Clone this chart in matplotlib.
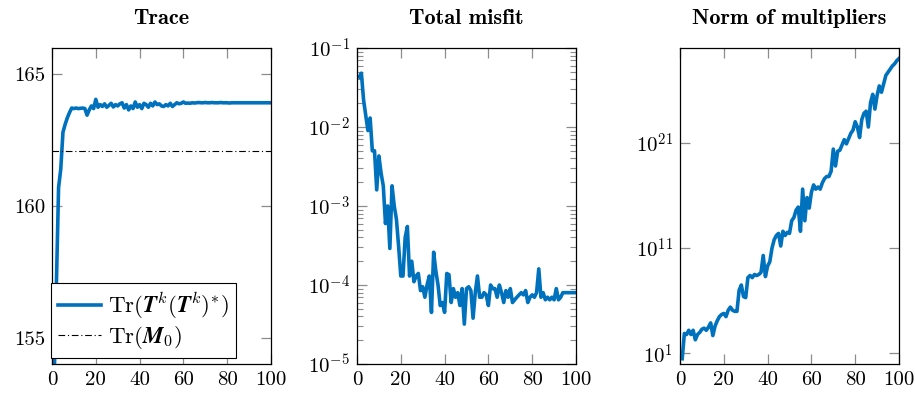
import numpy as np
import matplotlib
matplotlib.use('Agg')
import matplotlib.pyplot as plt
from matplotlib.ticker import FixedLocator, FuncFormatter, LogLocator, NullLocator

plt.rcParams['mathtext.fontset'] = 'cm'
plt.rcParams['font.family'] = 'serif'
plt.rcParams['font.serif'] = ['cmr10', 'DejaVu Serif']
plt.rcParams['axes.formatter.use_mathtext'] = True

# iteration index
iters = list(range(1, 101))

# Trace of T^k (T^k)^*
trace = [153.5, 157.0, 160.7, 161.4, 162.8, 163.1, 163.35, 163.55, 163.72, 163.7,
         163.72, 163.7, 163.71, 163.72, 163.7, 163.45, 163.65, 163.8, 163.7, 164.05,
         163.75, 163.85, 163.78, 163.88, 163.75, 163.82, 163.9, 163.76, 163.85, 163.8,
         163.88, 163.92, 163.72, 163.85, 163.65, 163.8, 163.7, 163.95, 163.75, 163.85,
         163.7, 163.9, 163.85, 163.75, 163.9, 163.8, 163.95, 163.85, 163.88, 163.8,
         163.78, 163.85, 163.8, 163.9, 163.78, 163.85, 163.92, 163.88, 163.9, 163.95,
         163.9, 163.91, 163.9, 163.92, 163.91, 163.92, 163.93, 163.92, 163.92, 163.93,
         163.92, 163.92, 163.93, 163.92, 163.92, 163.92, 163.93, 163.92, 163.92, 163.92,
         163.91, 163.92, 163.92, 163.92, 163.92, 163.92, 163.92, 163.92, 163.92, 163.92,
         163.92, 163.92, 163.92, 163.92, 163.92, 163.92, 163.92, 163.92, 163.92, 163.92]
trace_m0 = 162.1

# total misfit
misfit = [4.3e-2, 4.8e-2, 2.2e-2, 1.4e-2, 9e-3, 1.3e-2, 5e-3, 5e-3, 1.6e-3, 4.3e-3,
          2.6e-3, 1.8e-3, 6e-4, 1e-3, 2.9e-4, 1.8e-3, 1e-3, 6.8e-4, 3.1e-4, 1.3e-4,
          1.3e-4, 4e-4, 5.5e-4, 1.3e-4, 2e-4, 1.1e-4, 1.3e-4, 1.4e-4, 8.5e-5, 9.5e-5,
          7e-5, 1e-4, 1.3e-4, 4.5e-5, 2.6e-4, 1.5e-4, 1e-4, 5.5e-5, 6e-5, 4.5e-5,
          1.4e-4, 1.35e-4, 6e-5, 9e-5, 7e-5, 8e-5, 5.5e-5, 9e-5, 3.2e-5, 9e-5,
          9.5e-5, 8.5e-5, 3.8e-5, 8e-5, 1.3e-4, 7e-5, 7e-5, 8e-5, 7.5e-5, 5.5e-5,
          1e-4, 9e-5, 9e-5, 7e-5, 1e-4, 8e-5, 6e-5, 8.5e-5, 7e-5, 9e-5,
          6e-5, 6.5e-5, 7e-5, 7.5e-5, 8e-5, 7.5e-5, 8.5e-5, 6e-5, 7e-5, 7.5e-5,
          7e-5, 8e-5, 1.6e-4, 7e-5, 8e-5, 6.5e-5, 7e-5, 6.5e-5, 7e-5, 6.5e-5,
          9e-5, 6.5e-5, 7e-5, 8e-5, 8e-5, 8e-5, 8e-5, 8e-5, 8e-5, 8e-5]

# norm of multipliers (log10)
mult_log = [0.5, 2.9, 2.8, 3.2, 2.8, 3.2, 2.3, 2.8, 3.0, 3.3,
            3.4, 3.2, 3.5, 3.9, 2.7, 3.6, 4.1, 4.5, 4.7, 4.8,
            4.5, 5.1, 5.4, 5.1, 5.0, 5.0, 7.0, 7.5, 6.4, 6.3,
            8.2, 8.4, 8.2, 8.5, 8.4, 8.5, 8.7, 10.3, 8.3, 9.3,
            9.7, 11.0, 11.8, 12.2, 12.4, 11.2, 12.6, 12.2, 12.5, 12.4,
            13.6, 13.9, 14.6, 14.9, 12.6, 16.6, 13.6, 15.8, 14.8, 16.3,
            17.0, 16.6, 16.8, 16.6, 17.2, 17.6, 17.8, 17.8, 18.3, 20.4,
            18.8, 20.2, 20.3, 20.8, 21.3, 20.9, 21.4, 21.9, 22.2, 23.0,
            22.5, 21.5, 23.2, 23.8, 24.0, 22.5, 24.8, 25.6, 24.2, 25.5,
            26.4, 25.8, 26.6, 27.4, 27.7, 28.0, 28.3, 28.5, 28.8, 29.0]
mult = [10.0 ** v for v in mult_log]

blue = '#0072bd'
fs = 15

fig = plt.figure(figsize=(9.15, 3.97), dpi=100)
ax1 = fig.add_axes([52 / 915, 33 / 397, 219 / 915, 316 / 397])
ax2 = fig.add_axes([357 / 915, 33 / 397, 219 / 915, 316 / 397])
ax3 = fig.add_axes([680 / 915, 33 / 397, 219 / 915, 316 / 397])


def style(ax):
    ax.tick_params(which='both', direction='in', top=True, right=True,
                   color='#8c8c8c', labelsize=fs, pad=5)
    ax.tick_params(which='major', length=7, width=0.9)
    ax.tick_params(which='minor', length=4.5, width=0.8)
    for s in ax.spines.values():
        s.set_linewidth(0.9)
    ax.set_xlim(0, 100)
    ax.xaxis.set_major_locator(FixedLocator([0, 20, 40, 60, 80, 100]))
    ax.xaxis.set_major_formatter(FuncFormatter(lambda v, p: '%d' % v))


def title(ax, text):
    ax.set_title(text, family='cmb10', fontsize=16, pad=17)


# Trace
ax1.plot(iters, trace, color=blue, lw=2.6, label=r'$\mathrm{Tr}(\mathbfit{T}^{k}(\mathbfit{T}^{k})^{*})\;\;$')
ax1.axhline(trace_m0, color='black', lw=0.8, ls=(0, (6, 2.5, 1, 2.5)),
            label=r'$\mathrm{Tr}(\mathbfit{M}_0)$')
ax1.set_ylim(154, 166)
ax1.yaxis.set_major_locator(FixedLocator([155, 160, 165]))
ax1.yaxis.set_major_formatter(FuncFormatter(lambda v, p: '%d' % v))
style(ax1)
title(ax1, 'Trace')
leg = ax1.legend(loc='lower left', bbox_to_anchor=(-0.006, 0.018), borderaxespad=0,
                 fontsize=16.5, fancybox=False, edgecolor='black', framealpha=1,
                 handlelength=1.9, handletextpad=0.3, labelspacing=0.15,
                 borderpad=0.3)
leg.get_frame().set_linewidth(0.8)
leg.set_zorder(5)

# Total misfit
ax2.plot(iters, misfit, color=blue, lw=2.6)
ax2.set_yscale('log')
ax2.set_ylim(1e-5, 1e-1)
ax2.yaxis.set_major_locator(FixedLocator([1e-5, 1e-4, 1e-3, 1e-2, 1e-1]))
ax2.yaxis.set_minor_locator(LogLocator(base=10, subs=np.arange(2, 10), numticks=20))
ax2.yaxis.set_major_formatter(FuncFormatter(lambda v, p: r'$10^{%d}$' % round(np.log10(v))))
style(ax2)
title(ax2, 'Total misfit')

# Norm of multipliers
ax3.plot(iters, mult, color=blue, lw=2.6)
ax3.set_yscale('log')
ax3.set_ylim(1e0, 1e30)
ax3.yaxis.set_major_locator(FixedLocator([1e1, 1e11, 1e21]))
ax3.yaxis.set_minor_locator(NullLocator())
ax3.yaxis.set_major_formatter(FuncFormatter(lambda v, p: r'$10^{%d}$' % round(np.log10(v))))
style(ax3)
title(ax3, 'Norm of multipliers')

fig.savefig('out.png', dpi=100)
